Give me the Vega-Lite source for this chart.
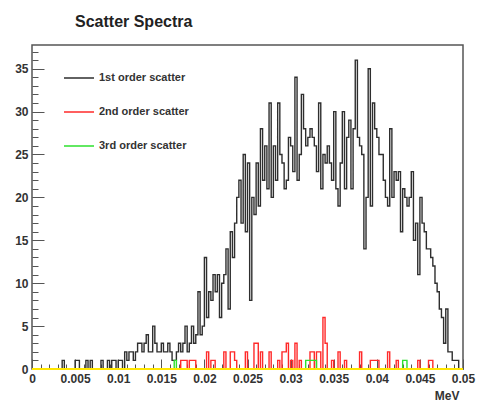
{
  "$schema": "https://vega.github.io/schema/vega-lite/v6.json",
  "width": 431,
  "height": 324,
  "autosize": "none",
  "padding": {"left": 32, "top": 45, "right": 21, "bottom": 33},
  "background": "white",
  "title": {
    "text": "Scatter Spectra",
    "anchor": "start",
    "frame": "group",
    "dx": 43,
    "offset": 2,
    "baseline": "alphabetic",
    "font": "Liberation Sans",
    "fontSize": 16,
    "fontWeight": "bold",
    "color": "#222"
  },
  "config": {
    "view": {"stroke": "#555", "strokeWidth": 1.5},
    "axis": {
      "grid": false,
      "domain": false,
      "labelFont": "Liberation Sans",
      "labelFontWeight": "bold",
      "labelFontSize": 12,
      "labelColor": "#333",
      "labelFlush": false,
      "labelOverlap": false,
      "tickColor": "#555",
      "tickWidth": 1,
      "titleFont": "Liberation Sans",
      "titleColor": "#333"
    }
  },
  "layer": [
    {
      "data": {
        "values": [
          {"e":0,"a":0,"b":0,"c":0},{"e":0.00025,"a":0,"b":0,"c":0},{"e":0.0005,"a":0,"b":0,"c":0},{"e":0.00075,"a":0,"b":0,"c":0},{"e":0.001,"a":0,"b":0,"c":0},
          {"e":0.00125,"a":0,"b":0,"c":0},{"e":0.0015,"a":0,"b":0,"c":0},{"e":0.00175,"a":0,"b":0,"c":0},{"e":0.002,"a":0,"b":0,"c":0},{"e":0.00225,"a":0,"b":0,"c":0},
          {"e":0.0025,"a":0,"b":0,"c":0},{"e":0.00275,"a":0,"b":0,"c":0},{"e":0.003,"a":0,"b":0,"c":0},{"e":0.00325,"a":0,"b":0,"c":0},{"e":0.0035,"a":1,"b":0,"c":0},
          {"e":0.00375,"a":0,"b":0,"c":0},{"e":0.004,"a":0,"b":0,"c":0},{"e":0.00425,"a":0,"b":0,"c":0},{"e":0.0045,"a":0,"b":0,"c":0},{"e":0.00475,"a":0,"b":0,"c":0},
          {"e":0.005,"a":1,"b":0,"c":0},{"e":0.00525,"a":1,"b":0,"c":0},{"e":0.0055,"a":0,"b":0,"c":0},{"e":0.00575,"a":0,"b":0,"c":0},{"e":0.006,"a":0,"b":0,"c":0},
          {"e":0.00625,"a":1,"b":0,"c":0},{"e":0.0065,"a":0,"b":0,"c":0},{"e":0.00675,"a":1,"b":0,"c":0},{"e":0.007,"a":0,"b":0,"c":0},{"e":0.00725,"a":0,"b":0,"c":0},
          {"e":0.0075,"a":0,"b":0,"c":0},{"e":0.00775,"a":0,"b":0,"c":0},{"e":0.008,"a":1,"b":0,"c":0},{"e":0.00825,"a":0,"b":0,"c":0},{"e":0.0085,"a":0,"b":0,"c":0},
          {"e":0.00875,"a":1,"b":0,"c":0},{"e":0.009,"a":0,"b":0,"c":0},{"e":0.00925,"a":1,"b":0,"c":0},{"e":0.0095,"a":1,"b":0,"c":0},{"e":0.00975,"a":0,"b":0,"c":0},
          {"e":0.01,"a":1,"b":0,"c":0},{"e":0.01025,"a":1,"b":0,"c":0},{"e":0.0105,"a":0,"b":0,"c":0},{"e":0.01075,"a":2,"b":0,"c":0},{"e":0.011,"a":1,"b":0,"c":0},
          {"e":0.01125,"a":2,"b":0,"c":0},{"e":0.0115,"a":2,"b":0,"c":0},{"e":0.01175,"a":1,"b":0,"c":0},{"e":0.012,"a":2,"b":0,"c":0},{"e":0.01225,"a":3,"b":0,"c":0},
          {"e":0.0125,"a":3,"b":0,"c":0},{"e":0.01275,"a":2,"b":0,"c":0},{"e":0.013,"a":3,"b":0,"c":0},{"e":0.01325,"a":4,"b":0,"c":0},{"e":0.0135,"a":2,"b":0,"c":0},
          {"e":0.01375,"a":2,"b":0,"c":0},{"e":0.014,"a":5,"b":0,"c":0},{"e":0.01425,"a":3,"b":0,"c":0},{"e":0.0145,"a":2,"b":0,"c":0},{"e":0.01475,"a":2,"b":0,"c":0},
          {"e":0.015,"a":3,"b":0,"c":0},{"e":0.01525,"a":2,"b":0,"c":0},{"e":0.0155,"a":2,"b":0,"c":0},{"e":0.01575,"a":3,"b":0,"c":0},{"e":0.016,"a":2,"b":0,"c":0},
          {"e":0.01625,"a":1,"b":0,"c":0},{"e":0.0165,"a":1,"b":0,"c":1},{"e":0.01675,"a":2,"b":0,"c":0},{"e":0.017,"a":3,"b":0,"c":0},{"e":0.01725,"a":2,"b":1,"c":0},
          {"e":0.0175,"a":3,"b":1,"c":0},{"e":0.01775,"a":5,"b":1,"c":0},{"e":0.018,"a":2,"b":0,"c":0},{"e":0.01825,"a":3,"b":1,"c":0},{"e":0.0185,"a":5,"b":1,"c":0},
          {"e":0.01875,"a":3,"b":1,"c":0},{"e":0.019,"a":4,"b":0,"c":0},{"e":0.01925,"a":9,"b":0,"c":0},{"e":0.0195,"a":4,"b":0,"c":0},{"e":0.01975,"a":5,"b":0,"c":0},
          {"e":0.02,"a":13,"b":0,"c":0},{"e":0.02025,"a":6,"b":2,"c":0},{"e":0.0205,"a":9,"b":0,"c":0},{"e":0.02075,"a":8,"b":1,"c":0},{"e":0.021,"a":11,"b":1,"c":0},
          {"e":0.02125,"a":9,"b":0,"c":0},{"e":0.0215,"a":11,"b":0,"c":0},{"e":0.02175,"a":6,"b":0,"c":0},{"e":0.022,"a":10,"b":0,"c":0},{"e":0.02225,"a":11,"b":2,"c":0},
          {"e":0.0225,"a":14,"b":0,"c":0},{"e":0.02275,"a":7,"b":0,"c":0},{"e":0.023,"a":16,"b":2,"c":0},{"e":0.02325,"a":13,"b":2,"c":0},{"e":0.0235,"a":17,"b":1,"c":0},
          {"e":0.02375,"a":20,"b":0,"c":0},{"e":0.024,"a":22,"b":0,"c":0},{"e":0.02425,"a":17,"b":0,"c":0},{"e":0.0245,"a":25,"b":0,"c":0},{"e":0.02475,"a":16,"b":2,"c":0},
          {"e":0.025,"a":24,"b":0,"c":0},{"e":0.02525,"a":8,"b":0,"c":0},{"e":0.0255,"a":20,"b":0,"c":0},{"e":0.02575,"a":18,"b":3,"c":0},{"e":0.026,"a":24,"b":3,"c":0},
          {"e":0.02625,"a":19,"b":0,"c":0},{"e":0.0265,"a":28,"b":2,"c":0},{"e":0.02675,"a":22,"b":0,"c":0},{"e":0.027,"a":26,"b":0,"c":0},{"e":0.02725,"a":21,"b":0,"c":0},
          {"e":0.0275,"a":31,"b":2,"c":0},{"e":0.02775,"a":20,"b":0,"c":0},{"e":0.028,"a":26,"b":0,"c":0},{"e":0.02825,"a":22,"b":0,"c":0},{"e":0.0285,"a":31,"b":1,"c":0},
          {"e":0.02875,"a":25,"b":0,"c":0},{"e":0.029,"a":24,"b":2,"c":0},{"e":0.02925,"a":21,"b":2,"c":0},{"e":0.0295,"a":22,"b":3,"c":0},{"e":0.02975,"a":27,"b":0,"c":0},
          {"e":0.03,"a":26,"b":1,"c":0},{"e":0.03025,"a":23,"b":0,"c":0},{"e":0.0305,"a":34,"b":3,"c":0},{"e":0.03075,"a":22,"b":0,"c":0},{"e":0.031,"a":25,"b":1,"c":0},
          {"e":0.03125,"a":32,"b":0,"c":0},{"e":0.0315,"a":28,"b":0,"c":0},{"e":0.03175,"a":26,"b":0,"c":1},{"e":0.032,"a":27,"b":0,"c":1},{"e":0.03225,"a":28,"b":2,"c":1},
          {"e":0.0325,"a":27,"b":2,"c":1},{"e":0.03275,"a":26,"b":0,"c":1},{"e":0.033,"a":23,"b":2,"c":0},{"e":0.03325,"a":31,"b":2,"c":0},{"e":0.0335,"a":21,"b":0,"c":0},
          {"e":0.03375,"a":25,"b":6,"c":0},{"e":0.034,"a":24,"b":3,"c":0},{"e":0.03425,"a":26,"b":0,"c":0},{"e":0.0345,"a":24,"b":0,"c":0},{"e":0.03475,"a":22,"b":1,"c":0},
          {"e":0.035,"a":30,"b":0,"c":0},{"e":0.03525,"a":21,"b":0,"c":0},{"e":0.0355,"a":19,"b":2,"c":0},{"e":0.03575,"a":24,"b":0,"c":0},{"e":0.036,"a":30,"b":0,"c":0},
          {"e":0.03625,"a":21,"b":1,"c":0},{"e":0.0365,"a":27,"b":0,"c":0},{"e":0.03675,"a":29,"b":0,"c":0},{"e":0.037,"a":21,"b":0,"c":0},{"e":0.03725,"a":28,"b":0,"c":0},
          {"e":0.0375,"a":36,"b":0,"c":0},{"e":0.03775,"a":27,"b":0,"c":0},{"e":0.038,"a":26,"b":2,"c":0},{"e":0.03825,"a":25,"b":0,"c":0},{"e":0.0385,"a":14,"b":0,"c":0},
          {"e":0.03875,"a":20,"b":0,"c":0},{"e":0.039,"a":35,"b":0,"c":0},{"e":0.03925,"a":19,"b":1,"c":0},{"e":0.0395,"a":31,"b":1,"c":0},{"e":0.03975,"a":28,"b":1,"c":0},
          {"e":0.04,"a":27,"b":1,"c":0},{"e":0.04025,"a":25,"b":0,"c":0},{"e":0.0405,"a":25,"b":0,"c":0},{"e":0.04075,"a":22,"b":0,"c":0},{"e":0.041,"a":20,"b":0,"c":0},
          {"e":0.04125,"a":19,"b":2,"c":0},{"e":0.0415,"a":28,"b":0,"c":0},{"e":0.04175,"a":20,"b":0,"c":0},{"e":0.042,"a":23,"b":0,"c":0},{"e":0.04225,"a":22,"b":1,"c":0},
          {"e":0.0425,"a":23,"b":0,"c":0},{"e":0.04275,"a":16,"b":0,"c":0},{"e":0.043,"a":21,"b":0,"c":1},{"e":0.04325,"a":20,"b":0,"c":1},{"e":0.0435,"a":19,"b":0,"c":0},
          {"e":0.04375,"a":20,"b":0,"c":0},{"e":0.044,"a":23,"b":0,"c":0},{"e":0.04425,"a":15,"b":0,"c":0},{"e":0.0445,"a":17,"b":0,"c":0},{"e":0.04475,"a":11,"b":1,"c":0},
          {"e":0.045,"a":20,"b":0,"c":0},{"e":0.04525,"a":17,"b":0,"c":0},{"e":0.0455,"a":16,"b":0,"c":0},{"e":0.04575,"a":14,"b":0,"c":0},{"e":0.046,"a":14,"b":1,"c":0},
          {"e":0.04625,"a":13,"b":1,"c":0},{"e":0.0465,"a":12,"b":0,"c":0},{"e":0.04675,"a":10,"b":0,"c":0},{"e":0.047,"a":9,"b":0,"c":0},{"e":0.04725,"a":7,"b":0,"c":0},
          {"e":0.0475,"a":6,"b":0,"c":0},{"e":0.04775,"a":3,"b":0,"c":0},{"e":0.048,"a":7,"b":0,"c":0},{"e":0.04825,"a":2,"b":0,"c":0},{"e":0.0485,"a":2,"b":0,"c":0},
          {"e":0.04875,"a":1,"b":0,"c":0},{"e":0.049,"a":1,"b":0,"c":0},{"e":0.04925,"a":1,"b":0,"c":0},{"e":0.0495,"a":0,"b":0,"c":0},{"e":0.04975,"a":0,"b":0,"c":0}
        ]
      },
      "transform": [{"fold": ["a", "b", "c"], "as": ["s", "n"]}],
      "mark": {"type": "line", "interpolate": "step-after", "strokeWidth": 1.4},
      "encoding": {
        "x": {
          "field": "e",
          "type": "quantitative",
          "scale": {"domain": [0, 0.05], "nice": false, "zero": false},
          "axis": {
            "orient": "bottom",
            "values": [0, 0.005, 0.01, 0.015, 0.02, 0.025, 0.03, 0.035, 0.04, 0.045, 0.05],
            "format": ".3~f",
            "tickSize": -10,
            "labelPadding": 14,
            "title": "MeV",
            "titleX": 427,
            "titleY": 21,
            "titleBaseline": "top",
            "titleAlign": "right",
            "titleFontSize": 12,
            "titleFontWeight": "bold"
          }
        },
        "y": {
          "field": "n",
          "type": "quantitative",
          "scale": {"domain": [0, 37.76], "nice": false},
          "axis": {
            "orient": "left",
            "values": [0, 5, 10, 15, 20, 25, 30, 35],
            "tickSize": -12,
            "labelPadding": 16,
            "title": null
          }
        },
        "color": {
          "field": "s",
          "type": "nominal",
          "scale": {"domain": ["a", "b", "c"], "range": ["#2e2e2e", "#ff2a2a", "#2ee02e"]},
          "legend": {
            "orient": "none",
            "legendX": 31,
            "legendY": 17,
            "title": null,
            "padding": 0,
            "symbolType": "stroke",
            "symbolSize": 900,
            "symbolStrokeWidth": 1.5,
            "labelFont": "Liberation Sans",
            "labelFontWeight": "bold",
            "labelFontSize": 11,
            "labelColor": "#333",
            "labelOffset": 4,
            "rowPadding": 13,
            "labelExpr": "datum.label == 'a' ? '1st order scatter' : datum.label == 'b' ? '2nd order scatter' : '3rd order scatter'"
          }
        }
      }
    },
    {
      "data": {"values": [{"y": 0}]},
      "mark": {"type": "rule", "color": "#ffe600", "strokeWidth": 2},
      "encoding": {
        "x": {
          "datum": 0,
          "type": "quantitative",
          "axis": {
            "orient": "bottom",
            "values": [0, 0.001, 0.002, 0.003, 0.004, 0.005, 0.006, 0.007, 0.008, 0.009, 0.01, 0.011, 0.012, 0.013, 0.014, 0.015, 0.016, 0.017, 0.018, 0.019, 0.02, 0.021, 0.022, 0.023, 0.024, 0.025, 0.026, 0.027, 0.028, 0.029, 0.03, 0.031, 0.032, 0.033, 0.034, 0.035, 0.036, 0.037, 0.038, 0.039, 0.04, 0.041, 0.042, 0.043, 0.044, 0.045, 0.046, 0.047, 0.048, 0.049, 0.05],
            "labels": false,
            "tickSize": -5,
            "title": null
          }
        },
        "x2": {"datum": 0.05},
        "y": {
          "field": "y",
          "type": "quantitative",
          "axis": {
            "orient": "left",
            "values": [0, 1, 2, 3, 4, 5, 6, 7, 8, 9, 10, 11, 12, 13, 14, 15, 16, 17, 18, 19, 20, 21, 22, 23, 24, 25, 26, 27, 28, 29, 30, 31, 32, 33, 34, 35, 36, 37],
            "labels": false,
            "tickSize": -6,
            "title": null
          }
        }
      }
    }
  ],
  "resolve": {"axis": {"x": "independent", "y": "independent"}}
}
